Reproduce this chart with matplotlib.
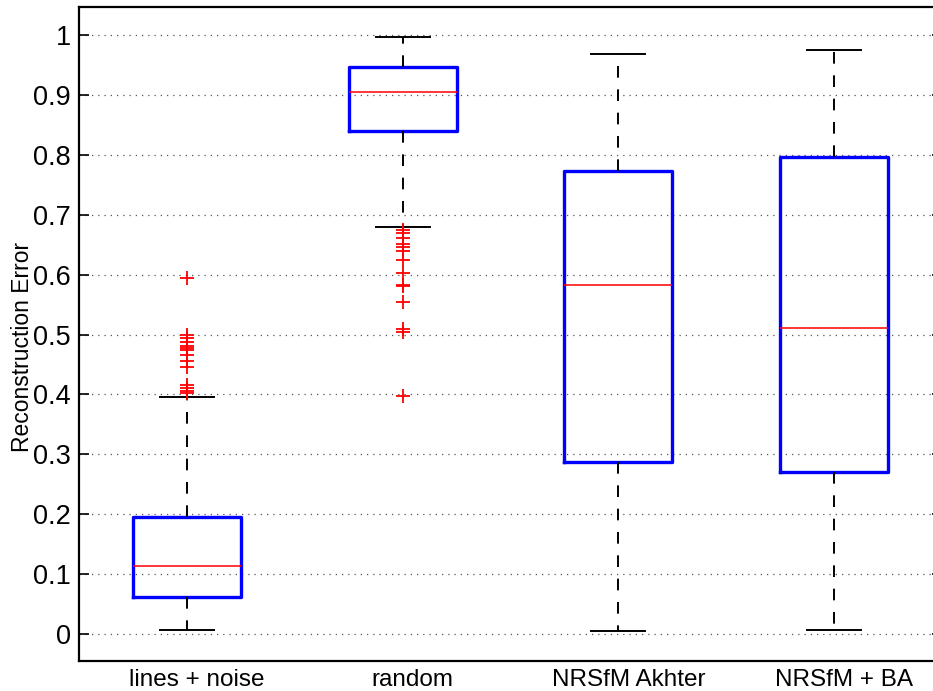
import matplotlib
matplotlib.use('Agg')
import matplotlib.pyplot as plt
from matplotlib.transforms import ScaledTranslation

plt.rcParams['font.family'] = ['Liberation Sans', 'DejaVu Sans']

# method names along the x axis
labels = ['lines + noise', 'random', 'NRSfM Akhter', 'NRSfM + BA']

# box statistics for each method
q1 = [0.062, 0.840, 0.288, 0.270]
med = [0.113, 0.905, 0.582, 0.511]
q3 = [0.195, 0.947, 0.773, 0.797]
whislo = [0.007, 0.679, 0.005, 0.006]
whishi = [0.395, 0.997, 0.969, 0.976]

# outliers beyond the whiskers
fliers_lines = [0.595, 0.499, 0.495, 0.488, 0.481, 0.477, 0.474, 0.466,
                0.456, 0.446, 0.416, 0.410, 0.405, 0.402]
fliers_random = [0.674, 0.669, 0.662, 0.651, 0.647, 0.640, 0.624, 0.603,
                 0.583, 0.581, 0.554, 0.510, 0.505, 0.398]
fliers = [fliers_lines, fliers_random, [], []]

stats = []
for i in range(len(labels)):
    stats.append({'label': labels[i], 'q1': q1[i], 'med': med[i], 'q3': q3[i],
                  'whislo': whislo[i], 'whishi': whishi[i], 'fliers': fliers[i]})

fig = plt.figure(figsize=(9.33, 6.91), dpi=100)
ax = fig.add_axes([79 / 933, 30 / 691, (942 - 79) / 933, 654 / 691])

ax.yaxis.grid(True, linestyle=(0, (1, 4)), color='#555555', linewidth=0.9)
ax.set_axisbelow(True)

ax.bxp(stats, positions=[1, 2, 3, 4], widths=0.5, capwidths=0.25,
       boxprops=dict(color='#0000ff', linewidth=2.4),
       medianprops=dict(color='#ff0000', linewidth=1.1),
       whiskerprops=dict(color='black', linewidth=1.4, linestyle=(0, (6, 6))),
       capprops=dict(color='black', linewidth=1.4),
       flierprops=dict(marker='+', markeredgecolor='#ff0000', markersize=10,
                       markeredgewidth=1.3, linestyle='none'))

ax.set_xlim(0.5, 4.5)
ax.set_ylim(-0.045, 1.047)
ax.set_yticks([i / 10 for i in range(11)])
ax.set_yticklabels(['0', '0.1', '0.2', '0.3', '0.4', '0.5', '0.6', '0.7',
                    '0.8', '0.9', '1'])
ax.tick_params(axis='y', direction='in', length=7, width=1.2, labelsize=19.5,
               pad=6, right=True)
ax.tick_params(axis='x', length=0, labelsize=17.5, pad=6)
ax.set_ylabel('Reconstruction Error', fontsize=16.5)
ax.yaxis.set_label_coords(-0.052, 0.48)

# nudge the category labels a little to the right
shift = ScaledTranslation(10 / 100, 0, fig.dpi_scale_trans)
for t in ax.get_xticklabels():
    t.set_transform(t.get_transform() + shift)

for s in ax.spines.values():
    s.set_linewidth(1.6)

fig.savefig('out.png', dpi=100)
